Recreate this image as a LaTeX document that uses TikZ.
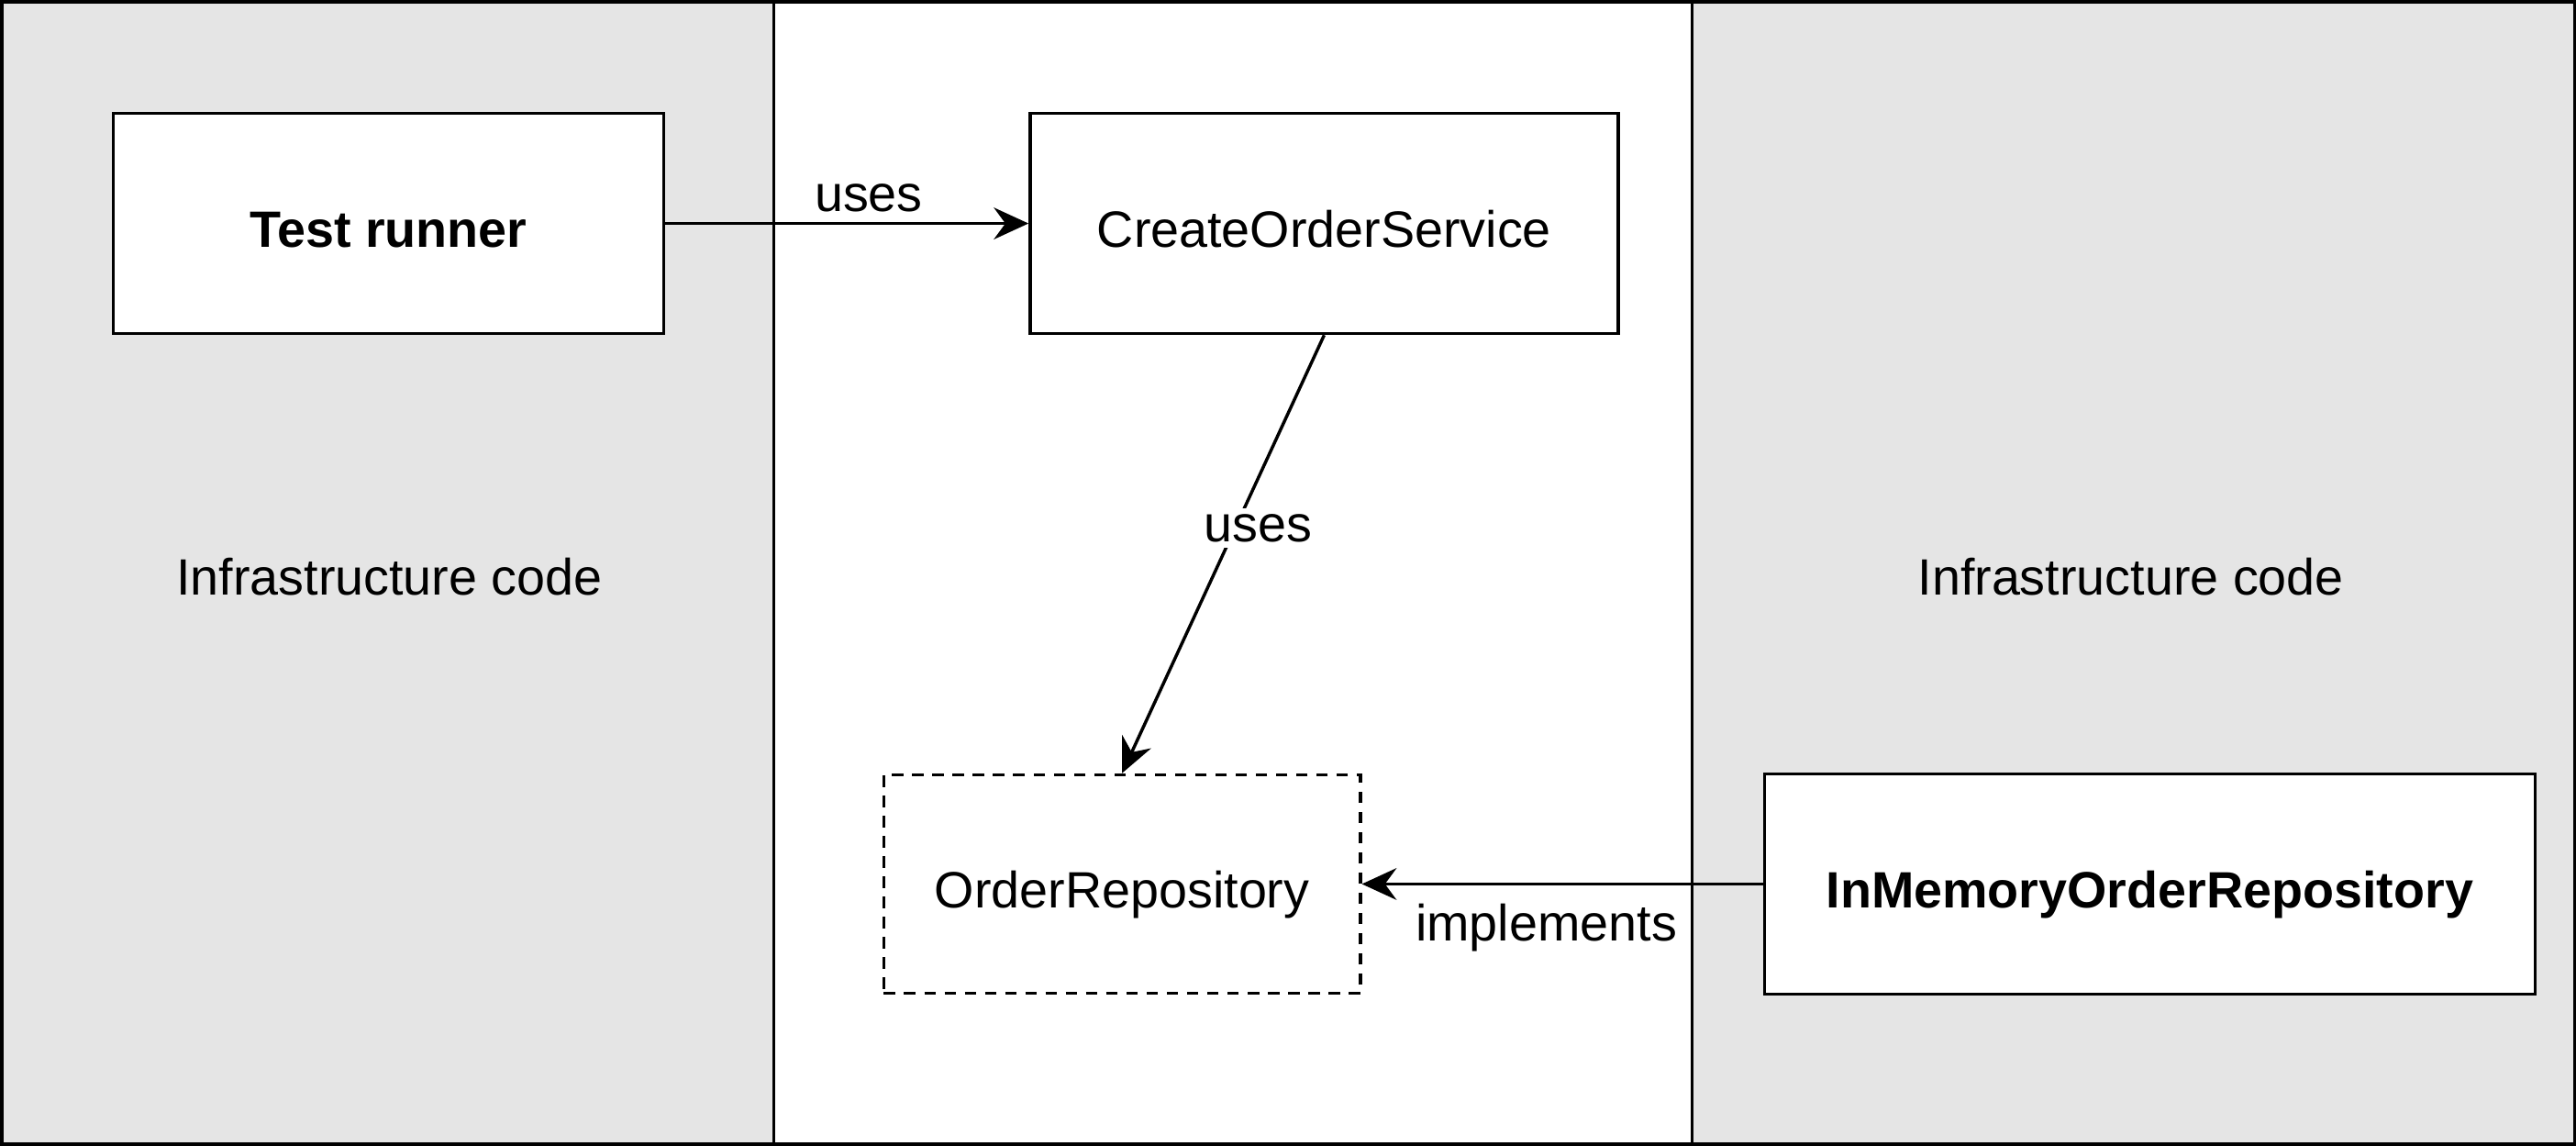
\documentclass[tikz,border=0pt]{standalone}
\usepackage{fontspec}
\setmainfont{Liberation Sans}
\usepackage{tikz}
\usetikzlibrary{
    arrows.meta,
    positioning
}

\tikzset{
    panel/.style={draw, line width=0.7pt},
    klass/.style={draw, line width=1.1pt, fill=white, inner sep=0pt, text height=16.5pt, text depth=0pt},
    iface/.style={klass, dash pattern=on 4pt off 3pt},
    uses/.style={->, line width=1.1pt}
}

\begin{document}
\begin{tikzpicture}[x=0.02cm, y=-0.02cm, >={Stealth[length=12pt, width=11pt, inset=4pt]},
        font=\fontsize{17.7}{21}\selectfont]
                        \useasboundingbox (0, 0) rectangle (1568, 697);
                        % three layers
                        \draw[panel, fill=black!10] (0, 0) rectangle (471, 697);
                        \draw[panel, fill=white] (471, 0) rectangle (1030, 697);
                        \draw[panel, fill=black!10] (1030, 0) rectangle (1568, 697);
                        \draw[line width=1.1pt] (1, 1) rectangle (1567, 696);

                        \node (leftinfra) at (237, 351) {Infrastructure code};
                        \node (rightinfra) at (1297, 351) {Infrastructure code};

                        \node[klass, minimum width=335*0.02cm, minimum height=134*0.02cm]
                            (runner) at (236.5, 136) {\bfseries Test runner};
                        \node[klass, minimum width=358*0.02cm, minimum height=134*0.02cm]
                            (service) at (806, 136) {CreateOrderService};
                        \node[iface, minimum width=290*0.02cm, minimum height=133*0.02cm]
                            (repo) at (683, 538) {OrderRepository};
                        \node[klass, minimum width=469*0.02cm, minimum height=134*0.02cm]
                            (inmemory) at (1308.5, 538) {\bfseries InMemoryOrderRepository};

                        \draw[uses] (runner) -- node[above, pos=0.56] {uses} (service);
                        \draw[uses] (service.south) -- node[fill=white, inner sep=2pt, pos=0.44, xshift=8pt] {uses} (repo.north);
                        \draw[uses] (inmemory) -- node[below, pos=0.54, yshift=-3pt] {implements} (repo);
                    \end{tikzpicture}
\end{document}
